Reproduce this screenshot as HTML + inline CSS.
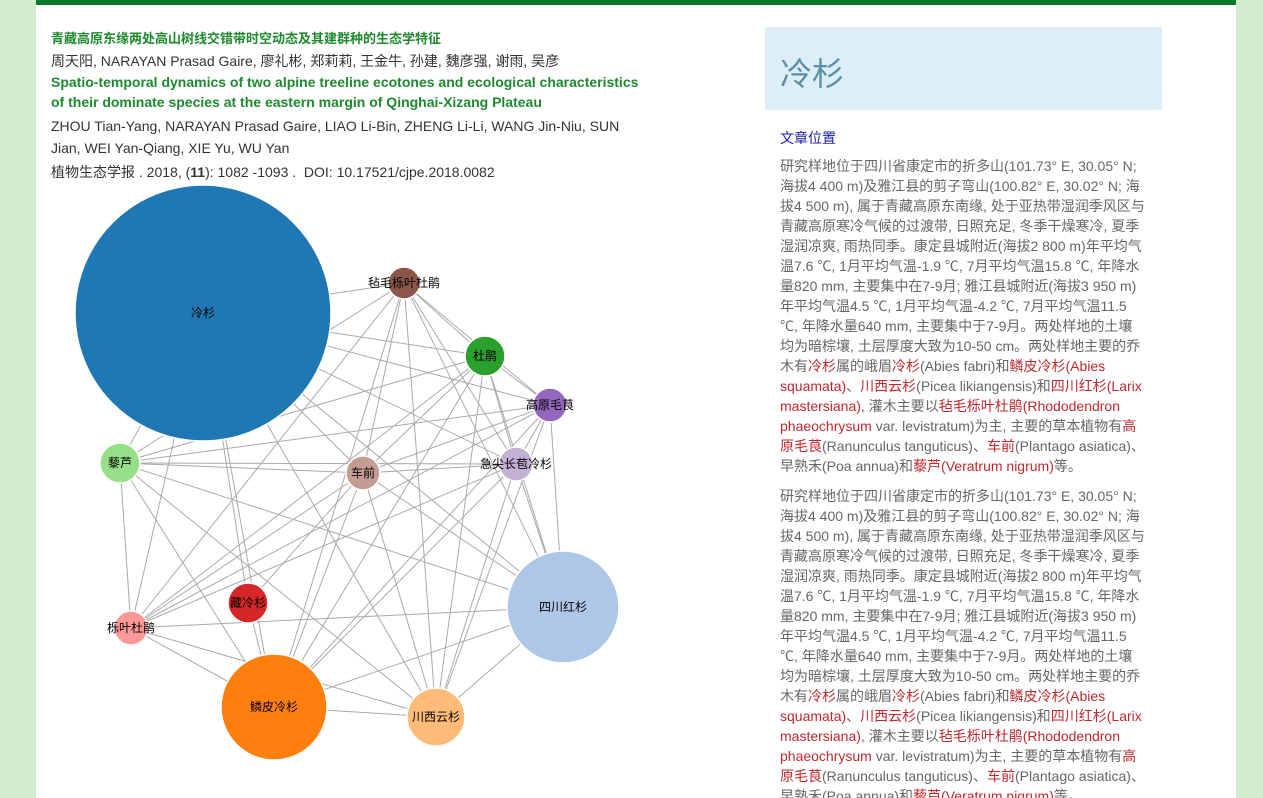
<!DOCTYPE html>
<html style="overflow:hidden;height:798px"><head><meta charset="utf-8"><style>
body{margin:0;width:1263px;height:798px;overflow:hidden;background:#d3ebce;font-family:"Liberation Sans","Noto Sans CJK SC",sans-serif;position:relative}
#wrap{position:absolute;left:36px;top:0;width:1200px;height:798px;background:#fff;border-top:5px solid #0b7a2c;box-sizing:border-box;overflow:hidden}
.t{position:absolute;left:15px;font-size:14px;color:#333;white-space:nowrap}
.g{color:#1d8a2e;font-weight:bold}
#panel{position:absolute;left:729px;top:22px;width:397px}
#hd{height:83px;background:#ddeef8;font-size:32px;color:#5a8fa6;padding-left:15px;line-height:95px;box-sizing:border-box}
#body{padding:0 16px 0 15px;font-size:14px;color:#666;line-height:20px}
#body p{margin:0 0 10px 0}
.r{color:#c0282d}
</style></head><body>
<div id="wrap">
<div class="t g" style="top:23px;font-size:13px">青藏高原东缘两处高山树线交错带时空动态及其建群种的生态学特征</div>
<div class="t" style="top:46px">周天阳, NARAYAN Prasad Gaire, 廖礼彬, 郑莉莉, 王金牛, 孙建, 魏彦强, 谢雨, 吴彦</div>
<div class="t g" style="top:67px;line-height:20px">Spatio-temporal dynamics of two alpine treeline ecotones and ecological characteristics<br>of their dominate species at the eastern margin of Qinghai-Xizang Plateau</div>
<div class="t" style="top:110px;line-height:22px">ZHOU Tian-Yang, NARAYAN Prasad Gaire, LIAO Li-Bin, ZHENG Li-Li, WANG Jin-Niu, SUN<br>Jian, WEI Yan-Qiang, XIE Yu, WU Yan</div>
<div class="t" style="top:157px">植物生态学报 . 2018, (<b>11</b>): 1082 -1093 .&nbsp; DOI: 10.17521/cjpe.2018.0082</div>
<svg id="g" style="position:absolute;left:-36px;top:-5px" width="700" height="803"></svg>
<div id="panel">
<div id="hd">冷杉</div>
<div id="body">
<div style="color:#1a1aa6;margin:18px 0 8px">文章位置</div>
<p>研究样地位于四川省康定市的折多山(101.73° E, 30.05° N; 海拔4 400 m)及雅江县的剪子弯山(100.82° E, 30.02° N; 海拔4 500 m), 属于青藏高原东南缘, 处于亚热带湿润季风区与青藏高原寒冷气候的过渡带, 日照充足, 冬季干燥寒冷, 夏季湿润凉爽, 雨热同季。康定县城附近(海拔2 800 m)年平均气温7.6 ℃, 1月平均气温-1.9 ℃, 7月平均气温15.8 ℃, 年降水量820 mm, 主要集中在7-9月; 雅江县城附近(海拔3 950 m)年平均气温4.5 ℃, 1月平均气温-4.2 ℃, 7月平均气温11.5 ℃, 年降水量640 mm, 主要集中于7-9月。两处样地的土壤均为暗棕壤, 土层厚度大致为10-50 cm。两处样地主要的乔木有<span class="r">冷杉</span>属的峨眉<span class="r">冷杉</span>(Abies fabri)和<span class="r">鳞皮冷杉(Abies squamata)</span>、<span class="r">川西云杉</span>(Picea likiangensis)和<span class="r">四川红杉(Larix mastersiana)</span>, 灌木主要以<span class="r">毡毛栎叶杜鹃(Rhododendron phaeochrysum</span> var. levistratum)为主, 主要的草本植物有<span class="r">高原毛茛</span>(Ranunculus tanguticus)、<span class="r">车前</span>(Plantago asiatica)、早熟禾(Poa annua)和<span class="r">藜芦(Veratrum nigrum)</span>等。</p>
<p>研究样地位于四川省康定市的折多山(101.73° E, 30.05° N; 海拔4 400 m)及雅江县的剪子弯山(100.82° E, 30.02° N; 海拔4 500 m), 属于青藏高原东南缘, 处于亚热带湿润季风区与青藏高原寒冷气候的过渡带, 日照充足, 冬季干燥寒冷, 夏季湿润凉爽, 雨热同季。康定县城附近(海拔2 800 m)年平均气温7.6 ℃, 1月平均气温-1.9 ℃, 7月平均气温15.8 ℃, 年降水量820 mm, 主要集中在7-9月; 雅江县城附近(海拔3 950 m)年平均气温4.5 ℃, 1月平均气温-4.2 ℃, 7月平均气温11.5 ℃, 年降水量640 mm, 主要集中于7-9月。两处样地的土壤均为暗棕壤, 土层厚度大致为10-50 cm。两处样地主要的乔木有<span class="r">冷杉</span>属的峨眉<span class="r">冷杉</span>(Abies fabri)和<span class="r">鳞皮冷杉(Abies squamata)</span>、<span class="r">川西云杉</span>(Picea likiangensis)和<span class="r">四川红杉(Larix mastersiana)</span>, 灌木主要以<span class="r">毡毛栎叶杜鹃(Rhododendron phaeochrysum</span> var. levistratum)为主, 主要的草本植物有<span class="r">高原毛茛</span>(Ranunculus tanguticus)、<span class="r">车前</span>(Plantago asiatica)、早熟禾(Poa annua)和<span class="r">藜芦(Veratrum nigrum)</span>等。</p>
</div></div>
</div>
<script>
var N=[["冷杉",203,313,128,"#1f77b4"],["毡毛栎叶杜鹃",404,283,16,"#8c564b"],["杜鹃",485,356,20,"#2ca02c"],["高原毛茛",550,405,17,"#9467bd"],["急尖长苞冷杉",516,464,17,"#c5b0d5"],["车前",363,473,17,"#c49c94"],["藜芦",120,463,20,"#98df8a"],["藏冷杉",248,603,20,"#d62728"],["栎叶杜鹃",131,628,17,"#ff9896"],["四川红杉",563,607,56,"#aec7e8"],["鳞皮冷杉",274,707,53,"#ff7f0e"],["川西云杉",436,717,29,"#ffbb78"]];
var s="";
for(var i=0;i<N.length;i++)for(var j=i+1;j<N.length;j++){
 if((i==7||j==7)&&!(i==0||j==10||i==5))continue;
 s+='<line x1="'+N[i][1]+'" y1="'+N[i][2]+'" x2="'+N[j][1]+'" y2="'+N[j][2]+'" stroke="#aaa" stroke-width="1"/>';}
for(var i=0;i<N.length;i++){var n=N[i];
 s+='<circle cx="'+n[1]+'" cy="'+n[2]+'" r="'+n[3]+'" fill="'+n[4]+'" stroke="#fff" stroke-width="1.5"/>';}
for(var i=0;i<N.length;i++){var n=N[i];
 s+='<text x="'+n[1]+'" y="'+(n[2]+4)+'" text-anchor="middle" font-size="12" font-family="Liberation Sans,Noto Sans CJK SC,sans-serif" fill="#000">'+n[0]+'</text>';}
document.getElementById("g").innerHTML=s;
</script>
</body></html>
